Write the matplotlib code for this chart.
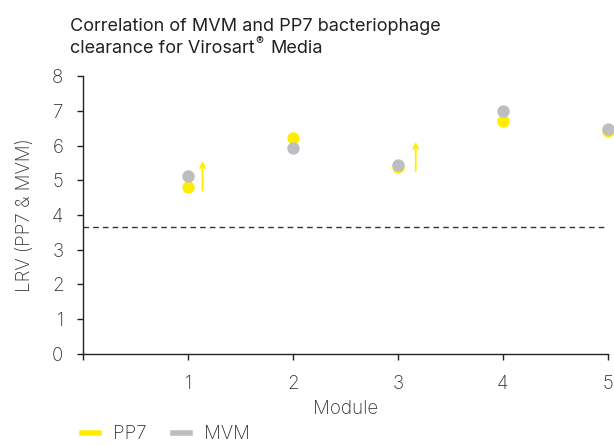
import matplotlib.pyplot as plt
from matplotlib.lines import Line2D

modules = [1, 2, 3, 4, 5]
pp7 = [4.80, 6.22, 5.38, 6.70, 6.42]
mvm = [5.12, 5.93, 5.44, 7.00, 6.48]
threshold = 3.65
# arrows showing PP7 values are lower limits (module, start, end)
arrow_x = [1.14, 3.17]
arrow_y0 = [4.70, 5.27]
arrow_y1 = [5.55, 6.10]

yellow = "#FFED00"
grey = "#BDBEC2"
txt = "#333333"
font = "Inter"

fig = plt.figure(figsize=(6.14, 4.45), dpi=100)
ax = fig.add_axes([0.135, 0.205, 0.855, 0.624])

ax.scatter(modules, pp7, s=80, color=yellow, zorder=3, clip_on=False, linewidths=0)
ax.scatter(modules, mvm, s=80, color=grey, zorder=4, clip_on=False, linewidths=0)
ax.axhline(threshold, color="#333333", linestyle=(0, (4, 3)), linewidth=1.0)

for x, y0, y1 in zip(arrow_x, arrow_y0, arrow_y1):
    ax.annotate("", xy=(x, y1), xytext=(x, y0),
                arrowprops=dict(arrowstyle="->", color=yellow, lw=1.3,
                                shrinkA=0, shrinkB=0, mutation_scale=9))

ax.set_xlim(0, 5)
ax.set_ylim(0, 8)
ax.set_xticks([0, 1, 2, 3, 4, 5])
ax.set_xticklabels(["", "1", "2", "3", "4", "5"])
ax.set_yticks(range(9))

for s in ["top", "right"]:
    ax.spines[s].set_visible(False)
for s in ["left", "bottom"]:
    ax.spines[s].set_color("#222222")
    ax.spines[s].set_linewidth(1.0)

ax.tick_params(direction="out", length=4, width=1.0, color="#222222",
               labelsize=13.5, labelcolor=txt)
ax.tick_params(axis="x", pad=11)
ax.tick_params(axis="y", pad=10)
for lab in ax.get_xticklabels() + ax.get_yticklabels():
    lab.set_fontfamily(font)
    lab.set_fontweight("light")

ax.set_xlabel("Module", fontsize=13.5, color=txt, family=font, weight="light", labelpad=5)
ax.set_ylabel("LRV (PP7 & MVM)", fontsize=13.5, color=txt, family=font, weight="light", labelpad=13)

# title, with a raised registered sign
tkw = dict(fontsize=13.0, family=font, color="#222222", ha="left", va="baseline")
fig.text(0.114, 1 - 31 / 445, "Correlation of MVM and PP7 bacteriophage", **tkw)
y2 = 1 - 53 / 445
t1 = fig.text(0.114, y2, "clearance for Virosart", **tkw)
fig.canvas.draw()
r = fig.canvas.get_renderer()
x1 = fig.transFigure.inverted().transform(t1.get_window_extent(r))[1][0]
t2 = fig.text(x1 + 0.002, y2 + 0.017, "\u00ae", **dict(tkw, fontsize=8.5))
fig.canvas.draw()
x2 = fig.transFigure.inverted().transform(t2.get_window_extent(r))[1][0]
fig.text(x2 + 0.010, y2, "Media", **tkw)

handles = [Line2D([], [], color=yellow, lw=4), Line2D([], [], color=grey, lw=4)]
leg = fig.legend(handles, ["PP7", "MVM"], loc="lower left", bbox_to_anchor=(0.1336, 0.004),
                 ncol=2, frameon=False, handlelength=0.9, handletextpad=0.75, columnspacing=1.4,
                 borderpad=0, borderaxespad=0,
                 prop={"family": font, "size": 13.5, "weight": "light"})
for t in leg.get_texts():
    t.set_color(txt)

fig.savefig("out.png", dpi=100)
